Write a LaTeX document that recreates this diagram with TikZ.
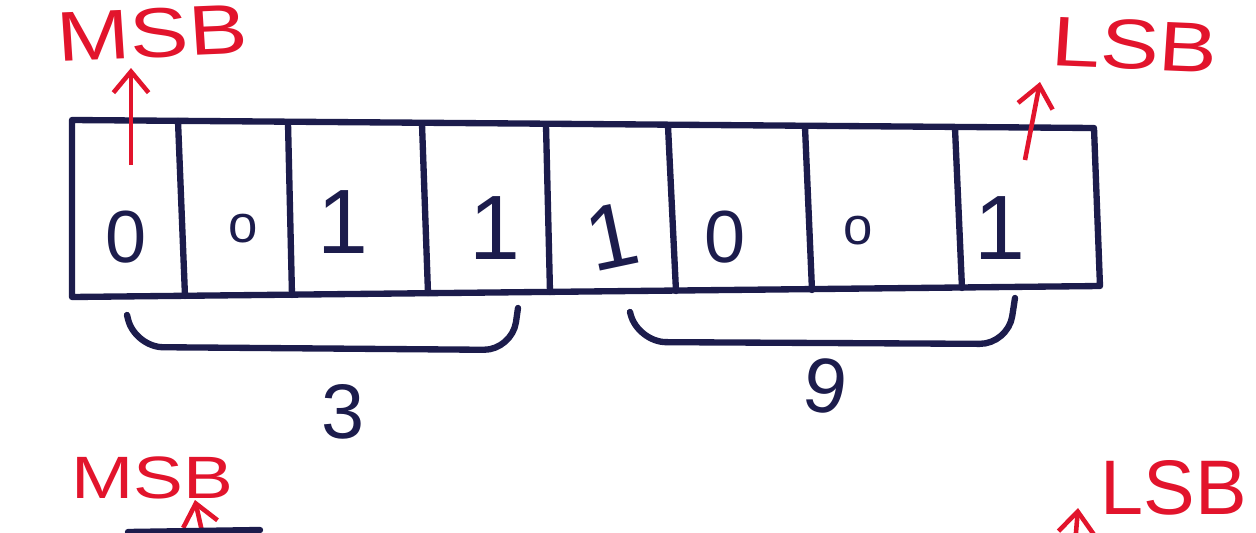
\documentclass[tikz,border=0pt]{standalone}
\usepackage{fontspec}
\setmainfont{Liberation Sans}
\usetikzlibrary{arrows.meta}
\definecolor{ink}{HTML}{1C1C4C}
\definecolor{pen}{HTML}{E2142C}
\tikzset{
  cellline/.style={draw=ink, line width=1.8pt, line cap=round, line join=round},
  bit/.style={text=ink, font=\fontsize{21}{21}\selectfont, inner sep=0pt},
  smallbit/.style={text=ink, font=\fontsize{15}{15}\selectfont, inner sep=0pt},
  bracestyle/.style={draw=ink, line width=1.8pt, line cap=round, rounded corners=8pt},
  count/.style={text=ink, font=\fontsize{22}{22}\selectfont, inner sep=0pt},
  redlabel/.style={text=pen, font=\fontsize{20}{20}\selectfont, inner sep=0pt, xscale=1.25},
  redarrow/.style={draw=pen, line width=1.3pt, -{Straight Barb[length=6pt,width=10pt]}}
}
\begin{document}
\begin{tikzpicture}[x=0.01cm, y=-0.01cm]
\fill[white] (0,0) rectangle (1256,533);
\useasboundingbox (0,0) rectangle (1256,533);
% cell edge coordinates (top, bottom)
\coordinate (t0) at (72,120);   \coordinate (b0) at (72,297);
\coordinate (t1) at (178,121);  \coordinate (b1) at (185,296);
\coordinate (t2) at (288,123);  \coordinate (b2) at (292,295);
\coordinate (t3) at (422,124);  \coordinate (b3) at (428,293);
\coordinate (t4) at (546,125);  \coordinate (b4) at (550,292);
\coordinate (t5) at (668,126);  \coordinate (b5) at (676,291);
\coordinate (t6) at (805,127);  \coordinate (b6) at (812,290);
\coordinate (t7) at (955,128);  \coordinate (b7) at (962,288);
\coordinate (t8) at (1094,128); \coordinate (b8) at (1100,286);
\draw[cellline] (t0) -- (t8) -- (b8) -- (b0) -- cycle;
\foreach \i in {1,...,7} { \draw[cellline] (t\i) -- (b\i); }
% bits
\node[bit] (d0) at (126,237) {0};
\node[smallbit] (d1) at (243,229) {o};
\node[bit, font=\fontsize{26}{26}\selectfont] (d2) at (343,222) {1};
\node[bit, font=\fontsize{26}{26}\selectfont] (d3) at (495,228) {1};
\node[bit, rotate=12, font=\fontsize{26}{26}\selectfont] (d4) at (612,236) {1};
\node[bit] (d5) at (725,237) {0};
\node[smallbit] (d6) at (858,231) {o};
\node[bit, font=\fontsize{26}{26}\selectfont] (d7) at (1000,228) {1};
% braces
\coordinate (l1) at (127,315); \coordinate (l2) at (135,347);
\coordinate (l3) at (512,350); \coordinate (l4) at (518,308);
\draw[bracestyle] (l1) -- (l2) -- (l3) -- (l4);
\coordinate (r1) at (630,312); \coordinate (r2) at (638,342);
\coordinate (r3) at (1008,344); \coordinate (r4) at (1015,298);
\draw[bracestyle] (r1) -- (r2) -- (r3) -- (r4);
\node[count] (n3) at (343,412) {3};
\node[count, rotate=-8] (n9) at (826,386) {9};
% MSB / LSB
\node[redlabel, rotate=3] (msb) at (152,33) {MSB};
\node[redlabel, rotate=-3] (lsb) at (1135,45) {LSB};
\coordinate (ma) at (131,165);
\coordinate (la) at (1025,160);
\draw[redarrow] (ma) -- (131,68);
\draw[redarrow] (la) -- (1040,82);
% second row (cut off)
\node[redlabel, font=\fontsize{17}{17}\selectfont] (msb2) at (152,478) {MSB};
\node[redlabel, font=\fontsize{22}{22}\selectfont, xscale=0.8, anchor=west] (lsb2) at (1100,488) {LSB};
\coordinate (ma2) at (205,545);
\coordinate (la2) at (1075,545);
\draw[redarrow] (ma2) -- (195,500);
\draw[redarrow] (la2) -- (1078,508);
\coordinate (bx1) at (128,532); \coordinate (bx2) at (260,530);
\draw[cellline] (bx1) -- (bx2);
\end{tikzpicture}
\end{document}
